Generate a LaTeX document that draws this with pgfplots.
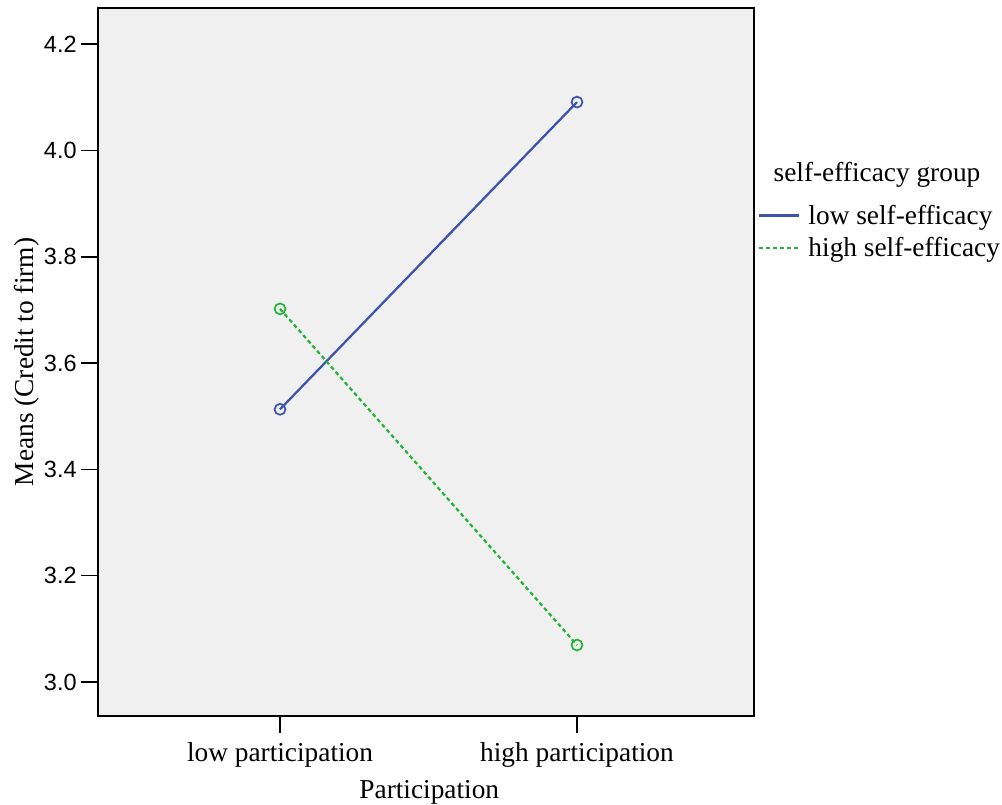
\documentclass[border=0pt]{standalone}
\usepackage{fontspec}
\setmainfont{Liberation Serif}
\setsansfont{Liberation Sans}
\usepackage{pgfplots}
\pgfplotsset{compat=1.18}
\definecolor{lblue}{RGB}{62,84,170}
\definecolor{lgreen}{RGB}{38,180,56}
\newcommand{\txt}{\fontsize{20.5}{24}\selectfont}
\begin{document}
\begin{tikzpicture}[x=1pt,y=1pt]
\begin{axis}[
  scale only axis,
  width=492pt, height=531pt,
  xmin=-0.613, xmax=1.596,
  ymin=2.936, ymax=4.268,
  xtick={0,1}, xticklabels={low participation, high participation},
  ytick={3.0,3.2,3.4,3.6,3.8,4.0,4.2},
  yticklabel style={font=\fontsize{17.6}{20}\sffamily,
    /pgf/number format/fixed, /pgf/number format/precision=1,
    /pgf/number format/fixed zerofill, /pgf/number format/assume math mode=true},
  xticklabel style={font=\txt, yshift=-3.5pt},
  tick align=outside,
  xtick pos=left, ytick pos=left,
  major tick length=12.5pt,
  tick style={line width=1.2pt, black},
  axis line style={line width=1.5pt},
  axis background/.style={fill=black!6},
  xlabel={Participation},
  ylabel={Means (Credit to firm)},
  xlabel style={font=\txt, at={(axis description cs:0.505,-0.1075)}, anchor=center},
  ylabel style={font=\txt, at={(axis description cs:-0.108,0.5)}, anchor=center},
  legend style={draw=none, fill=none, font=\txt,
    at={(axis description cs:1.005,0.726)}, anchor=north west,
    row sep=4.5pt, inner sep=0pt, cells={anchor=west}},
  legend image code/.code={\draw[#1] (0pt,0pt) -- (30pt,0pt); \path (34.5pt,0pt);},
  clip=false,
]
\addplot[color=lblue, line width=1.7pt, mark=o, mark size=4.1pt,
  mark options={solid, line width=1.3pt}]
  coordinates {(0,3.513) (1,4.091)};
\addlegendentry{low self-efficacy}
\addplot[color=lgreen, line width=1.7pt, dash pattern=on 3pt off 2.25pt, mark=o, mark size=4.1pt,
  mark options={solid, line width=1.3pt}]
  coordinates {(0,3.702) (1,3.0695)};
\addlegendentry{high self-efficacy}
\node[font=\txt, anchor=center] at (rel axis cs:1.1875,0.764) {self-efficacy group};
\coordinate (bl) at (rel axis cs:0,0);
\coordinate (tr) at (rel axis cs:1,1);
\end{axis}
\pgfresetboundingbox
\path ([shift={(-73.5pt,-66pt)}]bl) rectangle ([shift={(186pt,6pt)}]tr);
\end{tikzpicture}
\end{document}
